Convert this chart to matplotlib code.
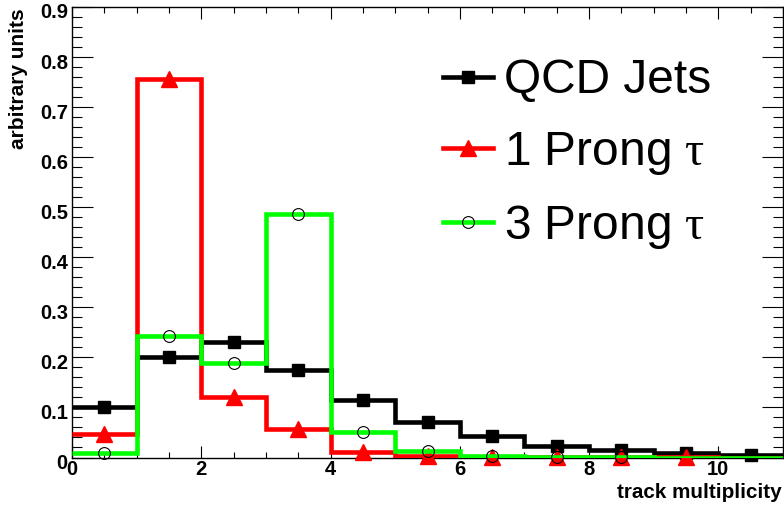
import numpy as np
import matplotlib
matplotlib.use("Agg")
import matplotlib.pyplot as plt
import matplotlib.transforms as mtransforms
from matplotlib.lines import Line2D
from matplotlib.ticker import MultipleLocator, FuncFormatter

# ---- data ----
bin_edges = [0, 1, 2, 3, 4, 5, 6, 7, 8, 9, 10, 11]
qcd_jets = [0.101, 0.200, 0.230, 0.175, 0.115, 0.070, 0.042, 0.022, 0.014, 0.008, 0.004]
prong1 = [0.047, 0.757, 0.120, 0.057, 0.010, 0.003, 0.0015, 0.001, 0.0007, 0.0005, 0.0]
prong3 = [0.008, 0.242, 0.188, 0.487, 0.050, 0.013, 0.003, 0.0015, 0.001, 0.0, 0.0]
series_labels = ["QCD Jets", "1 Prong $\\tau$", "3 Prong $\\tau$"]
x_label = "track multiplicity"
y_label = "arbitrary units"

plt.rcParams['mathtext.fontset'] = 'custom'
plt.rcParams['mathtext.it'] = 'Liberation Serif'
plt.rcParams['mathtext.rm'] = 'Liberation Serif'

fig = plt.figure(figsize=(7.84, 5.12), dpi=100)
W, H = 784, 512
ax_left, ax_right, ax_top, ax_bot = 72, 783, 7, 457.5
ax = fig.add_axes([ax_left / W, 1 - ax_bot / H, (ax_right - ax_left) / W, (ax_bot - ax_top) / H])

edges = np.array(bin_edges, dtype=float)
centers = 0.5 * (edges[:-1] + edges[1:])

styles = [
    (qcd_jets, 'black', dict(marker='s', markersize=8, markerfacecolor='black', markeredgecolor='black')),
    (prong1, '#ff0000', dict(marker='^', markersize=11, markerfacecolor='#ff0000', markeredgecolor='#ff0000')),
    (prong3, '#00ff00', dict(marker='o', markersize=8.5, markerfacecolor='none', markeredgecolor='black', markeredgewidth=0.8)),
]
lw = 3.3
handles = []
z = 2
for vals, col, mk in styles:
    v = np.array(vals, dtype=float)
    ax.stairs(v, edges, color=col, linewidth=lw, baseline=None, zorder=z)
    mv = np.where(v > 0, v, np.nan)
    ax.plot(centers, mv, linestyle='none', zorder=z + 0.5, clip_on=False, **mk)
    z += 1
    handles.append(Line2D([0], [0], color=col, linewidth=lw, **mk))

ax.set_xlim(0, 11)
ax.set_ylim(0, 0.9)

ax.xaxis.set_major_locator(MultipleLocator(2))
ax.xaxis.set_minor_locator(MultipleLocator(0.5))
ax.yaxis.set_major_locator(MultipleLocator(0.1))
ax.yaxis.set_minor_locator(MultipleLocator(0.02))
ax.yaxis.set_major_formatter(FuncFormatter(lambda v, p: '0' if abs(v) < 1e-9 else f'{v:.1f}'))
ax.xaxis.set_major_formatter(FuncFormatter(lambda v, p: f'{int(round(v))}'))

ax.tick_params(axis='both', which='both', direction='in', top=True, right=True, colors='black', width=0.8)
ax.tick_params(axis='x', which='major', length=8.6, pad=2)
ax.tick_params(axis='x', which='minor', length=4.3)
ax.tick_params(axis='y', which='major', length=15, pad=3)
ax.tick_params(axis='y', which='minor', length=7.5)
for lab in ax.get_xticklabels() + ax.get_yticklabels():
    lab.set_fontfamily('Liberation Sans')
    lab.set_fontweight('bold')
    lab.set_fontsize(14.5)
shift = mtransforms.ScaledTranslation(0, -4 / 100, fig.dpi_scale_trans)
for lab in ax.get_yticklabels():
    lab.set_transform(lab.get_transform() + shift)
for s in ax.spines.values():
    s.set_linewidth(1.0)

fig.text(18.5 / W, 1 - 8 / H, y_label, rotation=90, ha='center', va='top',
         fontfamily='Liberation Sans', fontweight='bold', fontsize=15)
fig.text(782 / W, 1 - 492 / H, x_label, ha='right', va='center',
         fontfamily='Liberation Sans', fontweight='bold', fontsize=14.9)

fs = 34.5
leg = ax.legend(handles, series_labels, loc='upper left',
                bbox_to_anchor=(443 / W, 1 - 58.5 / H), bbox_transform=fig.transFigure,
                frameon=False, borderpad=0, borderaxespad=0,
                handlelength=1.04, handletextpad=0.23, labelspacing=0.55,
                prop=dict(family='Liberation Sans', size=fs))

fig.savefig('out.png', dpi=100)
